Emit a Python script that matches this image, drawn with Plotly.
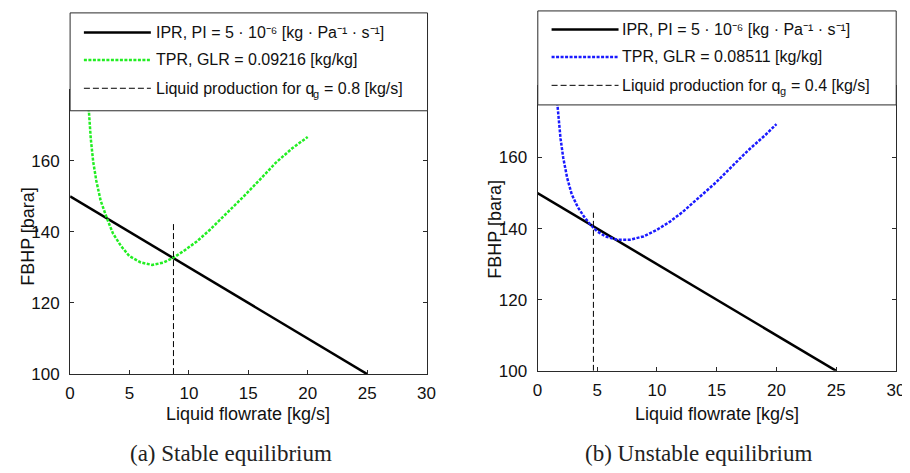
import plotly.graph_objects as go

# ---------------- data ----------------
ipr_q = [0, 5, 10, 15, 20, 25]
ipr_p = [150, 140, 130, 120, 110, 100]

tpr_a_q = [1.50, 1.58, 1.74, 1.94, 2.21, 2.57, 3.10, 3.60, 4.29, 4.98, 5.95, 6.92, 7.89,
           8.72, 9.55, 10.66, 11.77, 13.15, 14.53, 15.92, 17.30, 18.69, 20.0]
tpr_a_p = [176.0, 174.0, 166.2, 159.8, 154.3, 148.8, 143.8, 139.6, 136.0, 133.2, 131.4, 130.7, 131.4,
           132.8, 134.6, 137.3, 140.6, 145.1, 149.7, 154.5, 159.4, 163.5, 166.7]

tpr_b_q = [1.65, 1.71, 1.93, 2.15, 2.48, 2.86, 3.36, 3.91, 4.46, 5.0, 5.69, 6.66, 7.76,
           8.86, 9.96, 11.06, 12.16, 13.53, 14.91, 16.28, 17.66, 19.03, 20.0]
tpr_b_p = [175.5, 173.1, 165.3, 160.0, 154.3, 149.7, 146.1, 143.3, 141.0, 139.2, 137.8, 136.9, 136.9,
           137.8, 139.6, 141.9, 144.7, 148.8, 152.9, 157.5, 162.1, 166.2, 169.4]

eq_a_q = [8.7, 8.7]
eq_a_p = [100, 142.5]
eq_b_q = [4.68, 4.68]
eq_b_p = [100, 144.5]

x_ticks = [0, 5, 10, 15, 20, 25, 30]
y_ticks = [100, 120, 140, 160]

ipr_label = "IPR, PI = 5 · 10\u207b\u2076 [kg · Pa\u207b\u00b9 · s\u207b\u00b9]"
tpr_labels = ["TPR, GLR = 0.09216 [kg/kg]", "TPR, GLR = 0.08511 [kg/kg]"]
# "Liquid production for q_g = ... [kg/s]" drawn in three pieces (subscript g on its own)
prod_prefix = "Liquid production for q"
prod_sub = "g"
prod_suffix = ["= 0.8 [kg/s]", "= 0.4 [kg/s]"]
captions = ["(a) Stable equilibrium", "(b) Unstable equilibrium"]
x_title = "Liquid flowrate [kg/s]"
y_title = "FBHP [bara]"

# ---------------- styling helpers ----------------
W, H = 910, 473
def px(x):
    return x / W
def py(y):
    return 1 - y / H

SANS = "Liberation Sans, Arial, sans-serif"
SERIF = "Liberation Serif, Times New Roman, serif"
AX = "#2a2a2a"
TXT = "#111111"
GREEN = "#22ee22"
BLUE = "#1a1aff"
DOT = "3px,1.5px"
DASH = "6px,3px"
PREFIX_W = 158.3   # width of "Liquid production for q" at 16px Liberation Sans
SUB_W = 6.1        # width of "g" at 11px
SPACE_W = 4.45     # width of a space at 16px

fig = go.Figure()

# left panel
fig.add_trace(go.Scatter(x=ipr_q, y=ipr_p, mode="lines", line=dict(color="black", width=2.5),
                         xaxis="x", yaxis="y", showlegend=False))
fig.add_trace(go.Scatter(x=tpr_a_q, y=tpr_a_p, mode="lines", line=dict(color=GREEN, width=2.5, dash=DOT),
                         xaxis="x", yaxis="y", showlegend=False))
fig.add_trace(go.Scatter(x=eq_a_q, y=eq_a_p, mode="lines", line=dict(color="black", width=1, dash=DASH),
                         xaxis="x", yaxis="y", showlegend=False))
# right panel
fig.add_trace(go.Scatter(x=ipr_q, y=ipr_p, mode="lines", line=dict(color="black", width=2.5),
                         xaxis="x2", yaxis="y2", showlegend=False))
fig.add_trace(go.Scatter(x=tpr_b_q, y=tpr_b_p, mode="lines", line=dict(color=BLUE, width=2.5, dash=DOT),
                         xaxis="x2", yaxis="y2", showlegend=False))
fig.add_trace(go.Scatter(x=eq_b_q, y=eq_b_p, mode="lines", line=dict(color="black", width=1, dash=DASH),
                         xaxis="x2", yaxis="y2", showlegend=False))

axis_common = dict(showline=True, linecolor=AX, linewidth=1, mirror="ticks", ticks="inside",
                   ticklen=4, tickwidth=1, tickcolor=AX, showgrid=False, zeroline=False,
                   tickfont=dict(family=SANS, size=17, color=TXT))

fig.update_layout(
    width=W, height=H, margin=dict(l=0, r=0, t=0, b=0),
    paper_bgcolor="white", plot_bgcolor="white",
    xaxis=dict(domain=[px(58), px(420)], range=[0, 30], tickvals=x_ticks, anchor="y",
               ticklabelstandoff=4, **axis_common),
    yaxis=dict(domain=[py(374), py(83.4)], range=[100, 180], tickvals=y_ticks, anchor="x",
               ticklabelstandoff=6, **axis_common),
    xaxis2=dict(domain=[px(532.7), px(896.7)], range=[0, 30], tickvals=x_ticks, anchor="y2",
                ticklabelstandoff=4, **axis_common),
    yaxis2=dict(domain=[py(370.7), py(80.1)], range=[100, 180], tickvals=y_ticks, anchor="x2",
                ticklabelstandoff=6, **axis_common),
)

shapes = []
annotations = []

def txt(x, y, text, size, family=SANS, color=TXT, xanchor="left", angle=0):
    return dict(xref="paper", yref="paper", x=px(x), y=py(y), xanchor=xanchor, yanchor="middle",
                showarrow=False, text=text, textangle=angle, borderpad=0, borderwidth=0,
                font=dict(family=family, size=size, color=color))

panels = [
    dict(box=(58, 421, 5, 105), lx=(72, 140), ly=(25, 53, 82), tx=145, color=GREEN,
         texts=[ipr_label, tpr_labels[0]], suffix=prod_suffix[0],
         xt=(239, 415), yt=(15, 233), cap=(221, 455), caption=captions[0]),
    dict(box=(533, 897, 3, 99), lx=(547, 615), ly=(22, 50, 79), tx=619, color=BLUE,
         texts=[ipr_label, tpr_labels[1]], suffix=prod_suffix[1],
         xt=(715, 415), yt=(490, 226), cap=(697, 455), caption=captions[1]),
]

for p in panels:
    x0, x1, y0, y1 = p["box"]
    shapes.append(dict(type="rect", xref="paper", yref="paper", x0=px(x0), x1=px(x1), y0=py(y1), y1=py(y0),
                       line=dict(color=AX, width=1), fillcolor="white", layer="above"))
    styles = [dict(color="black", width=2.5), dict(color=p["color"], width=2.5, dash=DOT),
              dict(color="black", width=1, dash=DASH)]
    for i in range(3):
        shapes.append(dict(type="line", xref="paper", yref="paper", x0=px(p["lx"][0]), x1=px(p["lx"][1]),
                           y0=py(p["ly"][i]), y1=py(p["ly"][i]), line=styles[i], layer="above"))
    annotations.append(txt(p["tx"], p["ly"][0], p["texts"][0], 16))
    annotations.append(txt(p["tx"], p["ly"][1], p["texts"][1], 16))
    annotations.append(txt(p["tx"], p["ly"][2], prod_prefix, 16))
    gx = p["tx"] + PREFIX_W + 1.5
    annotations.append(txt(gx, p["ly"][2] + 6, prod_sub, 11))
    annotations.append(txt(gx + SUB_W + SPACE_W + 1, p["ly"][2], p["suffix"], 16))
    annotations.append(txt(p["xt"][0], p["xt"][1], x_title, 18, xanchor="center"))
    annotations.append(txt(p["yt"][0], p["yt"][1], y_title, 18, xanchor="center", angle=-90))
    annotations.append(txt(p["cap"][0], p["cap"][1], p["caption"], 23, family=SERIF, color="#222222",
                           xanchor="center"))

fig.update_layout(shapes=shapes, annotations=annotations)
fig.write_html("out.html")
